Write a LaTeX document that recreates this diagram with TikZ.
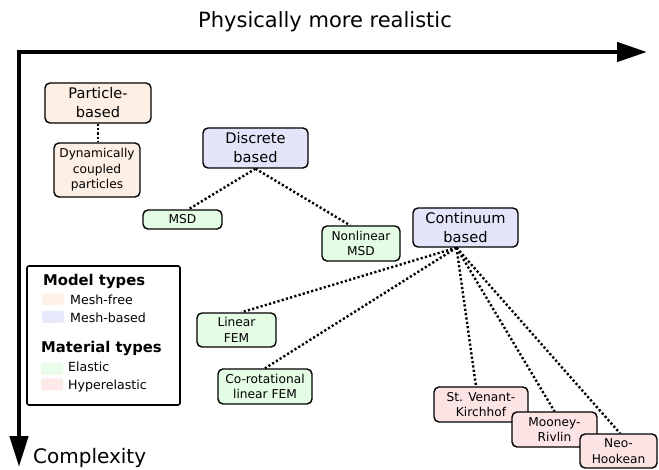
\documentclass[tikz,border=0pt]{standalone}
\usepackage{fontspec}
\setmainfont{DejaVu Sans}
\usetikzlibrary{backgrounds,arrows.meta}
\definecolor{cOrange}{HTML}{FDEFE3}
\definecolor{cLav}{HTML}{E4E4FA}
\definecolor{cGreen}{HTML}{E4FBE4}
\definecolor{cPink}{HTML}{FCE4E4}
\definecolor{sOrange}{HTML}{FFF3E9}
\definecolor{sLav}{HTML}{E9E9FC}
\definecolor{sGreen}{HTML}{EAFCEA}
\definecolor{sPink}{HTML}{FDE8E8}
\tikzset{
 box/.style={draw=black, line width=1.4pt, rounded corners=5pt, align=center, inner sep=0pt},
 cat/.style={box, font=\fontsize{14.6}{19}\selectfont},
 leaf/.style={box, font=\fontsize{12.2}{15.5}\selectfont},
 link/.style={line width=2.4pt, dash pattern=on 2.2pt off 2.2pt},
 axis/.style={line width=4.5pt, line join=miter, {Triangle[length=30pt,width=19pt]}-{Triangle[length=31pt,width=18pt]}},
 swatch/.style={rounded corners=2pt, minimum width=22pt, minimum height=12pt, inner sep=0pt},
 legtext/.style={anchor=base west, inner sep=0pt, font=\fontsize{12.6}{15}\selectfont},
 leghead/.style={anchor=base west, inner sep=0pt, font=\fontsize{14.8}{17}\selectfont\bfseries},
}
\begin{document}
\begin{tikzpicture}[x=1pt,y=-1pt]
\useasboundingbox (0,0) rectangle (659,470);
% axes
\coordinate (origin) at (19,52);
\coordinate (xend) at (647,52);
\coordinate (yend) at (19,467);
\draw[axis] (xend) -- (origin) -- (yend);
\node[font=\fontsize{21}{25}\selectfont, anchor=base, inner sep=0pt] (title) at (325,28) {Physically more realistic};
\node[font=\fontsize{20}{24}\selectfont, anchor=base west, inner sep=0pt] (cplx) at (33,463) {Complexity};

% nodes
\node[cat, fill=cOrange, minimum width=106pt, minimum height=40pt] (particle) at (98,103) {Particle-\\based};
\node[leaf, fill=cOrange, minimum width=86pt, minimum height=54pt] (dyn) at (97,170) {Dynamically\\coupled\\particles};
\node[cat, fill=cLav, minimum width=105pt, minimum height=40pt] (discrete) at (255.5,148) {Discrete\\based};
\node[leaf, fill=cGreen, minimum width=79pt, minimum height=19pt] (msd) at (182.5,219.5) {MSD};
\node[leaf, fill=cGreen, minimum width=78pt, minimum height=35pt] (nmsd) at (361,243.5) {Nonlinear\\MSD};
\node[cat, fill=cLav, minimum width=105pt, minimum height=39pt] (cont) at (465.5,227.5) {Continuum\\based};
\node[leaf, fill=cGreen, minimum width=79pt, minimum height=34pt] (lfem) at (236.5,330) {Linear\\FEM};
\node[leaf, fill=cGreen, minimum width=94pt, minimum height=35pt] (crfem) at (265,386.5) {Co-rotational\\linear FEM};
\node[leaf, fill=cPink, minimum width=94pt, minimum height=35pt] (svk) at (481,404.5) {St. Venant-\\Kirchhof};
\node[leaf, fill=cPink, minimum width=85pt, minimum height=35pt] (mr) at (554.5,429.5) {Mooney-\\Rivlin};
\node[leaf, fill=cPink, minimum width=77pt, minimum height=34pt] (neo) at (618.5,451) {Neo-\\Hookean};

% connectors
\begin{pgfonlayer}{background}
\draw[link] (particle.south) -- (particle.south |- dyn.north);
\draw[link] (discrete.south) -- ([xshift=6pt]msd.north);
\draw[link] (discrete.south) -- ([xshift=-11pt]nmsd.north);
\draw[link] ([xshift=-9pt]cont.south) -- ([xshift=5pt]lfem.north);
\draw[link] ([xshift=-9pt]cont.south) -- (crfem.north);
\draw[link] ([xshift=-9pt]cont.south) -- ([xshift=-5pt]svk.north);
\draw[link] ([xshift=-9pt]cont.south) -- (mr.north);
\draw[link] ([xshift=-9pt]cont.south) -- ([xshift=1.5pt]neo.north);
\end{pgfonlayer}

% legend
\node[draw=black, line width=1.6pt, rounded corners=2pt, minimum width=153pt, minimum height=139pt, inner sep=0pt] (legend) at (103.5,335.5) {};
\node[leghead] (lh1) at (43,286) {Model types};
\node[swatch, fill=sOrange] (sw1) at (53,299.5) {};
\node[legtext] (lt1) at (70,305) {Mesh-free};
\node[swatch, fill=sLav] (sw2) at (53,317) {};
\node[legtext] (lt2) at (70,323) {Mesh-based};
\node[leghead] (lh2) at (41,353) {Material types};
\node[swatch, fill=sGreen] (sw3) at (52,369) {};
\node[legtext] (lt3) at (68,372) {Elastic};
\node[swatch, fill=sPink] (sw4) at (52,384.5) {};
\node[legtext] (lt4) at (68,389) {Hyperelastic};
\end{tikzpicture}
\end{document}
